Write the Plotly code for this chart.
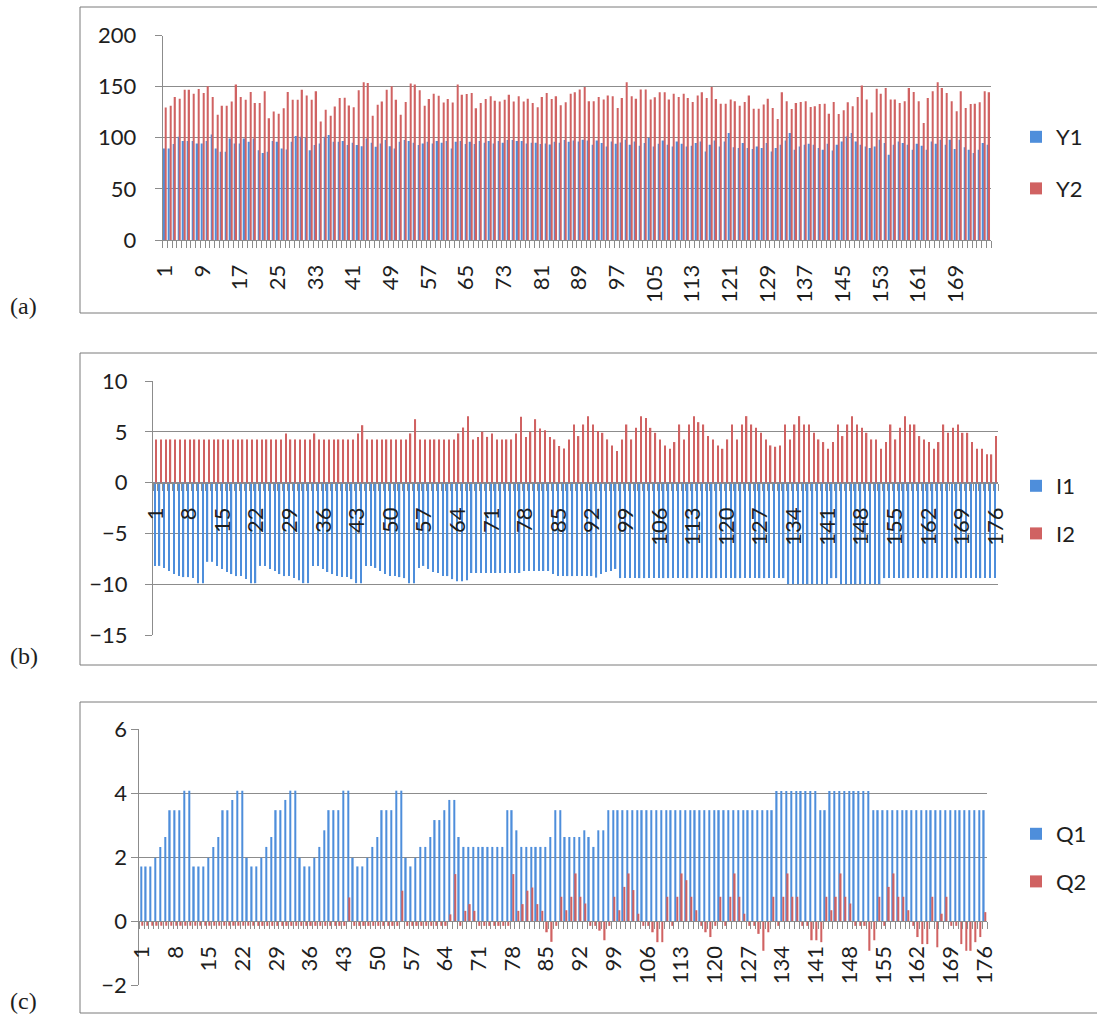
import plotly.graph_objects as go

W, H = 1097, 1015

# ---------------- data ----------------
CATS = list(range(1, 177))

TICKS_A = [1, 9, 17, 25, 33, 41, 49, 57, 65, 73, 81, 89, 97, 105, 113, 121, 129, 137, 145, 153, 161, 169]
TICKS_BC = [1, 8, 15, 22, 29, 36, 43, 50, 57, 64, 71, 78, 85, 92, 99, 106, 113, 120, 127, 134, 141, 148, 155, 162, 169, 176]

Y1 = [
    89.5, 89.5, 93.8, 101.0, 96.7, 96.7, 96.7, 94.4, 94.4, 96.7,
    103.3, 89.5, 86.2, 86.2, 99.3, 94.4, 94.4, 99.3, 96.1, 99.3,
    87.8, 85.2, 86.2, 96.7, 96.1, 89.5, 88.5, 96.1, 101.6, 101.0,
    100.0, 87.8, 92.8, 94.4, 101.0, 102.6, 96.1, 96.1, 96.7, 92.8,
    95.1, 92.8, 91.8, 99.3, 95.1, 91.1, 94.4, 97.7, 91.8, 89.5,
    96.1, 97.7, 96.7, 95.1, 92.8, 94.4, 96.1, 94.4, 96.7, 95.1,
    96.7, 89.5, 96.1, 96.7, 93.8, 96.1, 93.8, 96.7, 95.1, 96.7,
    94.4, 96.7, 95.1, 97.7, 97.7, 96.7, 96.7, 94.4, 95.1, 95.1,
    93.8, 94.4, 93.4, 96.1, 95.1, 97.7, 96.1, 97.4, 96.4, 98.0,
    97.4, 93.1, 97.4, 94.8, 91.5, 96.4, 94.1, 95.4, 98.0, 93.1,
    96.4, 92.2, 94.8, 99.7, 91.5, 94.1, 97.4, 93.1, 91.5, 96.4,
    94.1, 91.5, 92.2, 94.8, 96.4, 86.6, 93.1, 97.4, 91.5, 96.4,
    104.6, 90.8, 89.9, 94.8, 89.9, 88.9, 91.5, 89.9, 94.8, 86.6,
    89.9, 93.1, 97.4, 104.6, 88.2, 91.5, 93.1, 94.1, 93.1, 89.9,
    88.2, 94.1, 87.6, 93.1, 96.4, 101.3, 104.6, 96.4, 93.1, 91.5,
    89.9, 91.5, 98.0, 94.8, 83.3, 93.1, 96.4, 94.8, 93.1, 88.2,
    94.1, 92.2, 88.2, 96.4, 94.1, 98.0, 93.1, 98.0, 88.9, 98.0,
    90.8, 88.2, 85.0, 88.2, 94.8, 93.1,
]

Y2 = [
    129.6, 131.3, 139.8, 138.2, 147.0, 147.0, 143.1, 147.7, 143.8, 150.3,
    139.8, 122.4, 131.3, 131.3, 135.5, 152.0, 139.8, 137.2, 144.7, 133.9,
    133.9, 145.4, 119.1, 125.7, 123.4, 128.9, 144.7, 137.2, 137.2, 147.0,
    141.4, 137.2, 145.4, 115.8, 127.3, 121.4, 130.6, 138.8, 139.1, 131.6,
    129.9, 146.4, 154.3, 153.6, 121.4, 132.2, 135.5, 147.0, 150.3, 137.2,
    122.4, 134.9, 153.0, 152.0, 146.4, 131.3, 137.8, 143.1, 141.1, 134.5,
    137.8, 134.5, 152.0, 142.1, 142.8, 143.8, 128.9, 133.9, 137.8, 140.5,
    136.2, 135.5, 137.2, 142.1, 135.5, 140.5, 135.5, 138.2, 133.9, 129.9,
    139.8, 143.8, 137.8, 140.5, 131.7, 134.6, 143.1, 144.4, 147.1, 149.7,
    135.6, 135.6, 139.9, 137.3, 141.2, 140.5, 129.1, 138.9, 154.2, 140.5,
    138.2, 147.1, 147.1, 137.3, 139.5, 144.4, 144.4, 137.3, 143.1, 139.9,
    143.1, 138.9, 134.9, 141.2, 144.4, 138.9, 149.7, 137.9, 133.3, 133.3,
    137.3, 135.6, 131.4, 134.9, 141.2, 128.4, 128.4, 132.4, 138.2, 129.1,
    118.3, 144.4, 135.6, 128.1, 134.0, 134.9, 135.6, 130.1, 130.7, 133.0,
    133.3, 123.5, 134.9, 123.2, 126.8, 134.6, 130.7, 139.9, 151.0, 137.3,
    124.8, 148.0, 143.1, 148.7, 137.3, 137.3, 134.0, 135.6, 148.7, 144.8,
    135.6, 114.4, 138.9, 145.4, 154.2, 148.7, 143.8, 135.6, 125.8, 145.4,
    129.1, 133.0, 133.3, 134.6, 145.4, 144.4,
]

I1 = [
    -8.2, -8.2, -8.4, -8.7, -9.0, -9.2, -9.3, -9.3, -9.4, -9.9, -9.9,
    -7.8, -7.8, -8.2, -8.5, -8.8, -9.0, -9.2, -9.2, -9.5, -9.9, -9.9,
    -8.2, -8.2, -8.5, -8.7, -9.0, -9.2, -9.2, -9.4, -9.6, -9.9, -9.9,
    -8.2, -8.2, -8.5, -8.8, -9.0, -9.2, -9.3, -9.3, -9.5, -9.9, -9.9,
    -8.2, -8.2, -8.4, -8.7, -9.0, -9.2, -9.2, -9.3, -9.4, -9.9, -9.9,
    -8.4, -8.2, -8.5, -8.8, -8.9, -9.2, -9.2, -9.5, -9.7, -9.7, -9.6,
    -8.9, -8.9, -8.9, -8.9, -8.9, -8.9, -8.9, -8.9, -8.9, -8.9, -8.9,
    -8.7, -8.7, -8.7, -8.7, -8.7, -8.7, -9.0, -9.2, -9.2,
    -9.2, -9.2, -9.2, -9.2, -9.2, -9.2,
    -9.35, -9.0, -8.8, -8.7, -8.5,
    -9.4, -9.4, -9.4, -9.4, -9.4, -9.4, -9.4, -9.4, -9.4, -9.4,
    -9.4, -9.4, -9.4, -9.4, -9.4, -9.4, -9.4, -9.4, -9.4, -9.4,
    -9.4, -9.4, -9.4, -9.4, -9.4, -9.4, -9.4, -9.4, -9.4, -9.4,
    -9.4, -9.4, -9.4, -9.4, -9.4,
    -10.0, -10.0, -10.0, -10.0, -10.0, -10.0, -10.0, -10.0, -10.0,
    -9.4, -9.4,
    -10.0, -10.0, -10.0, -10.0, -10.0, -10.0, -10.0, -10.0, -10.0,
    -9.4, -9.4, -9.4, -9.4, -9.4, -9.4, -9.4, -9.4, -9.4, -9.4,
    -9.4, -9.4, -9.4, -9.4, -9.4, -9.4, -9.4, -9.4, -9.4, -9.4,
    -9.4, -9.4, -9.4, -9.4,
]

I2 = [
    4.25, 4.25, 4.25, 4.25, 4.25, 4.25, 4.25, 4.25, 4.25, 4.25,
    4.25, 4.25, 4.25, 4.25, 4.25, 4.25, 4.25, 4.25, 4.25, 4.25,
    4.25, 4.25, 4.25, 4.25, 4.25, 4.25, 4.25, 4.84, 4.25, 4.25,
    4.25, 4.25, 4.25, 4.84, 4.25, 4.25, 4.25, 4.25, 4.25, 4.25,
    4.25, 4.25, 4.84, 5.65, 4.25, 4.25, 4.25, 4.25, 4.25, 4.25,
    4.25, 4.25, 4.25, 4.84, 6.24, 4.25, 4.25, 4.25, 4.25, 4.25,
    4.25, 4.25, 4.25, 4.84, 5.42, 6.54, 4.25, 4.5, 5.0, 4.5,
    4.84, 4.25, 4.25, 4.25, 4.25, 4.84, 6.47, 4.5, 5.0, 6.24,
    5.33, 5.16, 4.5, 4.25, 3.6, 3.35, 4.25, 5.72, 4.58, 5.72,
    6.54, 5.72, 5.07, 4.9, 4.25, 3.66, 3.1, 4.25, 5.72, 4.25,
    5.39, 6.54, 6.37, 5.39, 4.9, 4.25, 3.66, 3.33, 3.99, 5.72,
    4.25, 5.72, 6.54, 5.95, 5.72, 4.58, 4.25, 3.66, 3.33, 4.25,
    5.72, 4.25, 5.72, 6.54, 5.72, 5.39, 4.9, 4.25, 3.66, 3.53,
    3.66, 5.72, 4.25, 5.72, 6.54, 5.72, 5.72, 4.9, 4.25, 3.99,
    3.33, 3.99, 5.72, 4.58, 5.72, 6.54, 5.72, 5.39, 4.9, 4.25,
    4.25, 3.33, 3.99, 5.72, 4.25, 5.39, 6.54, 5.72, 5.72, 4.58,
    4.25, 3.99, 3.33, 3.99, 5.72, 4.9, 5.39, 5.72, 4.9, 4.9,
    3.99, 3.33, 3.33, 2.78, 2.78, 4.58,
]

Q1 = [
    1.71, 1.71, 1.71, 1.98, 2.32, 2.63, 3.47, 3.47, 3.47, 4.08, 4.08,
    1.71, 1.71, 1.71, 1.98, 2.32, 2.63, 3.47, 3.47, 3.79, 4.08, 4.08,
    1.98, 1.71, 1.71, 1.98, 2.32, 2.63, 3.47, 3.47, 3.79, 4.08, 4.08,
    1.98, 1.71, 1.71, 1.98, 2.32, 2.84, 3.47, 3.47, 3.47, 4.08, 4.08,
    1.98, 1.71, 1.71, 1.98, 2.32, 2.63, 3.47, 3.47, 3.47, 4.08, 4.08,
    1.98, 1.71, 1.98, 2.32, 2.32, 2.63, 3.16, 3.16, 3.47, 3.79, 3.79,
    2.63, 2.32, 2.32, 2.32, 2.32, 2.32, 2.32, 2.32, 2.32, 2.32,
    3.47, 3.47, 2.84, 2.32, 2.32, 2.32, 2.32, 2.32, 2.32, 2.63,
    3.47, 3.47, 2.63, 2.63, 2.63, 2.63, 2.84, 2.63, 2.32, 2.84, 2.84,
    3.47, 3.47, 3.47, 3.47, 3.47, 3.47, 3.47, 3.47, 3.47, 3.47,
    3.47, 3.47, 3.47, 3.47, 3.47, 3.47, 3.47, 3.47, 3.47, 3.47,
    3.47, 3.47, 3.47, 3.47, 3.47, 3.47, 3.47, 3.47, 3.47, 3.47,
    3.47, 3.47, 3.47, 3.47, 3.47,
    4.07, 4.07, 4.07, 4.07, 4.07, 4.07, 4.07, 4.07, 4.07,
    3.47, 3.47,
    4.07, 4.07, 4.07, 4.07, 4.07, 4.07, 4.07, 4.07, 4.07,
    3.47, 3.47, 3.47, 3.47, 3.47, 3.47, 3.47, 3.47, 3.47, 3.47,
    3.47, 3.47, 3.47, 3.47, 3.47, 3.47, 3.47, 3.47, 3.47, 3.47,
    3.47, 3.47, 3.47, 3.47,
]

Q2 = [
    -0.15, -0.15, -0.15, -0.15, -0.15, -0.15, -0.15, -0.15, -0.15, -0.15,
    -0.15, -0.15, -0.15, -0.15, -0.15, -0.15, -0.15, -0.15, -0.15, -0.15,
    -0.15, -0.15, -0.15, -0.15, -0.15, -0.15, -0.15, -0.15, -0.15, -0.15,
    -0.15, -0.15, -0.15, -0.15, -0.15, -0.15, -0.15, -0.15, -0.15, -0.15,
    -0.15, -0.15, -0.15, 0.74, -0.15, -0.15, -0.15, -0.15, -0.15, -0.15,
    -0.15, -0.15, -0.15, -0.15, 0.95, -0.15, -0.15, -0.15, -0.15, -0.15,
    -0.15, -0.15, -0.15, -0.15, 0.21, 1.47, -0.15, 0.32, 0.53, 0.32,
    -0.15, -0.15, -0.15, -0.15, -0.15, -0.15, -0.15, 1.47, 0.32, 0.53,
    0.95, 1.05, 0.53, 0.32, -0.35, -0.65, -0.15, 0.76, 0.34, 0.76,
    1.49, 0.76, 0.55, -0.15, -0.15, -0.3, -0.6, -0.15, 0.76, 0.34,
    1.07, 1.49, 0.97, 0.23, -0.15, -0.15, -0.35, -0.66, -0.66, 0.76,
    -0.15, 0.76, 1.49, 1.28, 0.76, 0.34, -0.15, -0.35, -0.5, -0.15,
    0.76, -0.15, 0.76, 1.49, 0.76, 0.23, -0.15, -0.15, -0.4, -0.93,
    -0.35, 0.76, -0.15, 0.76, 1.49, 0.76, 0.76, -0.15, -0.15, -0.6,
    -0.6, -0.66, 0.76, 0.34, 0.76, 1.49, 0.76, 0.55, -0.15, -0.15,
    -0.15, -0.93, -0.6, 0.76, -0.15, 1.07, 1.49, 0.76, 0.76, 0.34,
    -0.15, -0.5, -0.72, -0.72, 0.76, -0.82, 0.23, 0.76, -0.15, -0.15,
    -0.72, -0.93, -0.93, -0.66, -0.5, 0.28,
]

# ---------------- styling ----------------
BLUE = "#4E8EDB"
RED = "#D06262"
GRID = "#8c8c8c"
TXT = "#1e1e1e"
FONT = "Lato"


def fx(px):
    return px / W


def fy(py):
    return 1 - py / H


panels = [
    dict(key="", names=("Y1", "Y2"), data=(Y1, Y2), xpx=(162.7, 991), ypx=(240, 35.5),
         yr=(0, 200), dt=50, ticks=TICKS_A, at_zero=False, leg=(138, 188),
         box=(7, 313), lab="(a)", lab_y=306, ystand=14, legname="legend"),
    dict(key="2", names=("I1", "I2"), data=(I1, I2), xpx=(153, 998), ypx=(635, 381),
         yr=(-15, 10), dt=5, ticks=TICKS_BC, at_zero=True, leg=(487, 533),
         box=(353, 665), lab="(b)", lab_y=656, ystand=13, legname="legend2"),
    dict(key="3", names=("Q1", "Q2"), data=(Q1, Q2), xpx=(139.3, 987), ypx=(985, 729.3),
         yr=(-2, 6), dt=2, ticks=TICKS_BC, at_zero=True, leg=(835, 881),
         box=(702, 1013), lab="(c)", lab_y=1001, ystand=0, legname="legend3"),
]

fig = go.Figure()
layout = dict(
    width=W, height=H, margin=dict(l=0, r=0, t=0, b=0, pad=0, autoexpand=False),
    paper_bgcolor="white", plot_bgcolor="white",
    barmode="group", bargap=0.42, bargroupgap=0.0,
    showlegend=True, shapes=[], annotations=[],
    font=dict(family=FONT, size=22, color=TXT),
)

for p in panels:
    k = p["key"]
    xname, yname = "x" + k, "y" + k
    xa, ya = "xaxis" + k, "yaxis" + k
    for name, vals, col in zip(p["names"], p["data"], (BLUE, RED)):
        fig.add_trace(go.Bar(
            x=CATS, y=vals, name=name, marker=dict(color=col, line=dict(width=0)),
            xaxis=xname, yaxis=yname, legend=p["legname"], legendgroup=name,
            hoverinfo="skip",
        ))

    xdom = [fx(p["xpx"][0]), fx(p["xpx"][1])]
    ydom = [fy(p["ypx"][0]), fy(p["ypx"][1])]
    y0, y1 = p["yr"]

    xaxis = dict(
        domain=xdom, range=[0.5, len(CATS) + 0.5],
        tickmode="array", tickvals=p["ticks"], ticktext=[str(t) for t in p["ticks"]],
        tickangle=-90, ticks="outside", ticklen=7, tickcolor="rgba(0,0,0,0)",
        ticklabelstandoff=8, automargin=False,
        showline=True, linecolor=GRID, linewidth=1,
        showgrid=False, zeroline=False,
        minor=dict(ticks="outside", ticklen=7, tickcolor=GRID, tickwidth=1,
                   tickmode="linear", tick0=0.5, dtick=1, showgrid=False),
        tickfont=dict(family=FONT, size=22, color=TXT),
        fixedrange=True,
    )
    if p["at_zero"]:
        xaxis["anchor"] = "free"
        xaxis["position"] = ydom[0] + (0 - y0) / (y1 - y0) * (ydom[1] - ydom[0])
    else:
        xaxis["anchor"] = yname
    layout[xa] = xaxis

    layout[ya] = dict(
        domain=ydom, range=[y0, y1], anchor=xname,
        tickmode="linear", tick0=y0, dtick=p["dt"],
        ticks="outside", ticklen=7, tickcolor=GRID,
        ticklabelstandoff=p["ystand"], automargin=False,
        showline=True, linecolor=GRID, linewidth=1,
        showgrid=True, gridcolor=GRID, gridwidth=1, zeroline=False,
        tickfont=dict(family=FONT, size=22, color=TXT),
        fixedrange=True,
    )

    ly0, ly1 = p["leg"]
    layout[p["legname"]] = dict(
        x=fx(1016), xanchor="left", y=fy((ly0 + ly1) / 2), yanchor="middle",
        bgcolor="rgba(0,0,0,0)", borderwidth=0,
        font=dict(family=FONT, size=22, color=TXT),
        traceorder="grouped", tracegroupgap=(ly1 - ly0) - 30,
    )

    bt, bb = p["box"]
    for (x0_, y0_, x1_, y1_) in [(80, bt, 1100, bt), (80, bt, 80, bb), (80, bb, 1100, bb)]:
        layout["shapes"].append(dict(
            type="line", xref="paper", yref="paper",
            x0=fx(x0_), y0=fy(y0_), x1=fx(x1_), y1=fy(y1_),
            line=dict(color="#7a7a7a", width=1),
        ))
    layout["annotations"].append(dict(
        text=p["lab"], xref="paper", yref="paper", x=fx(8), y=fy(p["lab_y"]),
        xanchor="left", yanchor="middle", showarrow=False,
        font=dict(family="Liberation Serif", size=24, color=TXT),
    ))

fig.update_layout(**layout)
fig.write_html(
    "out.html",
    config={"displayModeBar": False},
    post_script="document.body.style.margin='0';document.body.style.overflow='hidden';",
)
